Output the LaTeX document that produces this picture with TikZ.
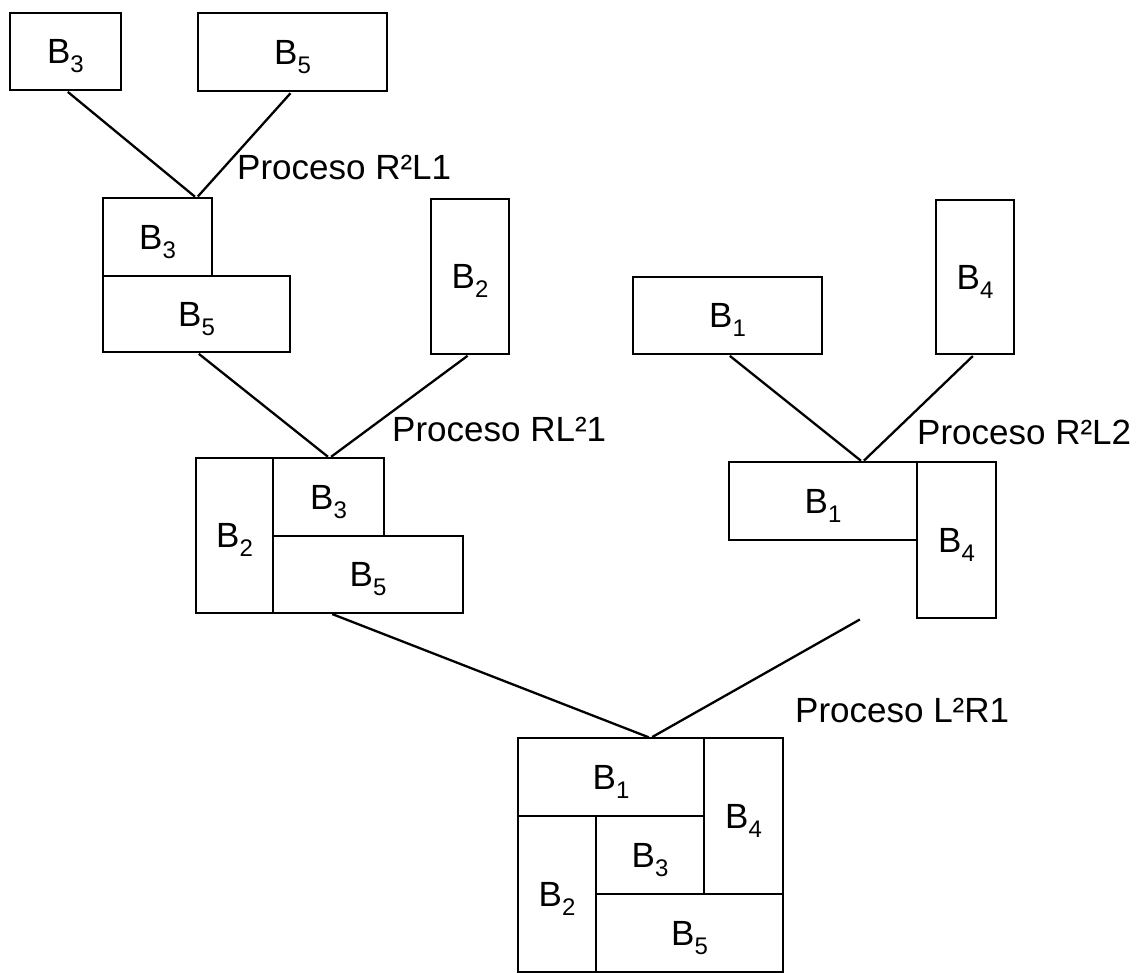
\documentclass[tikz,border=0pt]{standalone}
\usepackage{fontspec}
\setmainfont{Liberation Sans}
\usetikzlibrary{fit}
% block label: a capital B with a lowered index digit
\newcommand\Bs[1]{B\raisebox{-9pt}[0pt][0pt]{\fontsize{24}{24}\selectfont #1}}

\begin{document}
\begin{tikzpicture}[x=1pt,y=-1pt,
  blk/.style={draw, line width=2.8pt, inner sep=0pt, outer sep=0pt,
              font=\fontsize{35}{40}\selectfont},
  grp/.style={inner sep=0pt, outer sep=0pt},
  link/.style={line width=2.3pt, shorten <=3pt, shorten >=2pt},
  proc/.style={anchor=base west, inner sep=0pt, font=\fontsize{35}{40}\selectfont}]
\useasboundingbox (0,0) rectangle (1146,972);

% ---- first pair: B3 and B5
\node[blk, minimum width=111pt, minimum height=77pt] (tB3) at (65.5,51.5) {\Bs{3}};
\node[blk, minimum width=189pt, minimum height=78pt] (tB5) at (292.5,52) {\Bs{5}};

% ---- result of R2L1, next to B2
\node[blk, minimum width=109pt, minimum height=78pt] (mB3) at (157.5,237) {\Bs{3}};
\node[blk, minimum width=187pt, minimum height=76pt] (mB5) at (196.5,314) {\Bs{5}};
\node[grp, fit=(mB3)(mB5)] (g1) {};
\node[blk, minimum width=78pt, minimum height=155pt] (mB2) at (470,276.5) {\Bs{2}};

% ---- second pair: B1 and B4
\node[blk, minimum width=189pt, minimum height=77pt] (rB1) at (727.5,315.5) {\Bs{1}};
\node[blk, minimum width=78pt, minimum height=154pt] (rB4) at (975,277) {\Bs{4}};

% ---- result of RL21
\node[blk, minimum width=77pt, minimum height=155pt] (cB2) at (234.5,535.5) {\Bs{2}};
\node[blk, minimum width=111pt, minimum height=78pt] (cB3) at (328.5,497) {\Bs{3}};
\node[blk, minimum width=190pt, minimum height=77pt] (cB5) at (368,574.5) {\Bs{5}};
\node[grp, fit=(cB2)(cB3)(cB5)] (g2) {};

% ---- result of R2L2
\node[blk, minimum width=188pt, minimum height=78pt] (dB1) at (823,501) {\Bs{1}};
\node[blk, minimum width=79pt, minimum height=156pt] (dB4) at (956.5,540) {\Bs{4}};
\node[grp, fit=(dB1)(dB4)] (g3) {};

% ---- final floorplan, result of L2R1
\node[blk, minimum width=186pt, minimum height=78pt] (fB1) at (611,777) {\Bs{1}};
\node[blk, minimum width=79pt, minimum height=156pt] (fB4) at (743.5,816) {\Bs{4}};
\node[blk, minimum width=78pt, minimum height=156pt] (fB2) at (557,894) {\Bs{2}};
\node[blk, minimum width=108pt, minimum height=78pt] (fB3) at (650,855) {\Bs{3}};
\node[blk, minimum width=187pt, minimum height=78pt] (fB5) at (689.5,933) {\Bs{5}};
\node[grp, fit=(fB1)(fB4)(fB2)(fB5)] (g4) {};

% ---- merge lines
\draw[link] (tB3.south) -- (g1.north);
\draw[link] (tB5.south) -- (g1.north);
\draw[link] (mB5.south) -- (g2.north);
\draw[link] (mB2.south) -- (g2.north);
\draw[link] (rB1.south) -- (g3.north);
\draw[link] (rB4.south) -- (g3.north);
\draw[link] (g2.south) -- (g4.north);
\draw[link] (g3.south) -- (g4.north);

% ---- process names
\node[proc] (p1) at (237,179) {Proceso R²L1};
\node[proc] (p2) at (392,441) {Proceso RL²1};
\node[proc] (p3) at (917,444) {Proceso R²L2};
\node[proc] (p4) at (795,722) {Proceso L²R1};
\end{tikzpicture}
\end{document}
